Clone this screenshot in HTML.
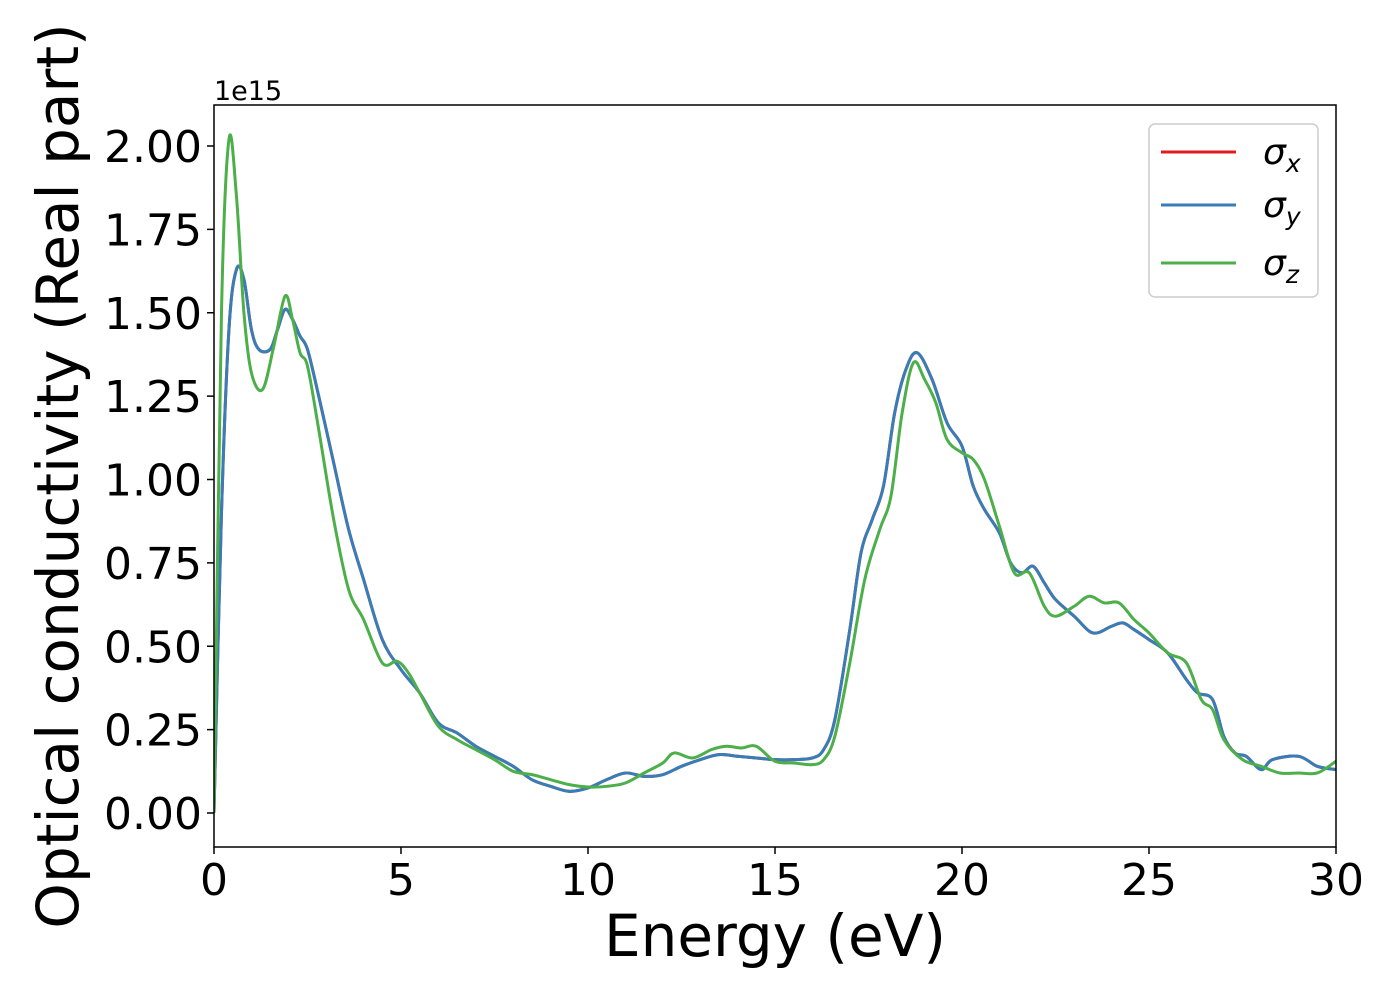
<!DOCTYPE html>
<html><head><meta charset="utf-8"><style>
body{margin:0;background:#fff;width:1400px;height:1000px;overflow:hidden}
svg text{font-family:"DejaVu Sans","Liberation Sans",sans-serif;fill:#000}
</style></head><body>
<svg id="chart" width="1400" height="1000" xmlns="http://www.w3.org/2000/svg"></svg>
<script>
const xTicks=[0,5,10,15,20,25,30];
const yTicks=[0,0.25,0.5,0.75,1.0,1.25,1.5,1.75,2.0];
const yTickLabels=["0.00","0.25","0.50","0.75","1.00","1.25","1.50","1.75","2.00"];
const energyXY=[0,0.2,0.4,0.6,0.8,1.0,1.2,1.5,1.7,1.9,2.1,2.3,2.5,2.8,3.2,3.6,4.0,4.5,5,5.5,6,6.5,7,7.5,8,8.5,9,9.5,10,10.5,11,11.5,12,12.5,13,13.5,14,14.5,15,15.5,16,16.3,16.6,17,17.3,17.6,17.9,18.2,18.5,18.8,19.2,19.6,20,20.3,20.6,21,21.3,21.6,21.9,22.2,22.5,23,23.5,24,24.3,24.6,25,25.5,26,26.3,26.7,27,27.3,27.6,28,28.3,29,29.5,30];
const sigmaX=[0,0.9,1.45,1.63,1.6,1.45,1.39,1.39,1.45,1.51,1.48,1.43,1.39,1.25,1.05,0.85,0.70,0.52,0.43,0.36,0.27,0.24,0.20,0.17,0.14,0.10,0.08,0.065,0.075,0.10,0.12,0.11,0.115,0.14,0.16,0.175,0.17,0.165,0.16,0.16,0.165,0.19,0.28,0.55,0.78,0.88,0.98,1.2,1.33,1.38,1.30,1.17,1.10,0.98,0.91,0.84,0.75,0.72,0.74,0.69,0.64,0.59,0.54,0.56,0.57,0.55,0.52,0.48,0.40,0.36,0.34,0.23,0.18,0.17,0.13,0.16,0.17,0.14,0.13];
const sigmaY=sigmaX.slice();
const energyZ=[0,0.2,0.4,0.6,0.8,1.0,1.3,1.6,1.9,2.1,2.3,2.5,2.8,3.2,3.6,4.0,4.5,4.9,5.2,5.5,6,6.5,7,7.5,8,8.5,9,9.5,10,10.5,11,11.5,12,12.3,12.8,13.3,13.7,14.1,14.5,15,15.5,16,16.3,16.6,17,17.4,17.8,18.1,18.4,18.7,19,19.3,19.6,20,20.3,20.6,21,21.4,21.8,22.2,22.5,23,23.4,23.8,24.2,24.6,25,25.5,26,26.4,26.7,27,27.5,28,28.5,29,29.5,30];
const sigmaZ=[0,1.5,2.02,1.85,1.5,1.32,1.27,1.40,1.55,1.48,1.38,1.34,1.15,0.88,0.67,0.58,0.45,0.455,0.42,0.36,0.26,0.22,0.19,0.16,0.125,0.115,0.10,0.085,0.078,0.08,0.09,0.12,0.15,0.18,0.165,0.19,0.20,0.195,0.20,0.155,0.15,0.145,0.16,0.23,0.45,0.70,0.85,0.95,1.2,1.35,1.30,1.23,1.12,1.08,1.06,1.00,0.86,0.72,0.72,0.62,0.59,0.62,0.65,0.63,0.63,0.58,0.54,0.48,0.45,0.34,0.31,0.22,0.16,0.14,0.12,0.12,0.12,0.155];
const L=214,R=1336,T=105,B=847;
const X=v=>L+(v-0)/(30-0)*(R-L);
const Y=v=>813-v*333.5;
const NS="http://www.w3.org/2000/svg";
const svg=document.getElementById('chart');
function mk(t,a,p){const e=document.createElementNS(NS,t);for(const k in a)e.setAttribute(k,a[k]);(p||svg).appendChild(e);return e;}
const defs=mk('defs',{});const cp=mk('clipPath',{id:'clip'},defs);mk('rect',{x:L,y:T,width:R-L,height:B-T},cp);
function path(xs,ys){const p=xs.map((x,i)=>[X(x),Y(ys[i])]);let d=`M${p[0][0]},${p[0][1]}`;
for(let i=0;i<p.length-1;i++){const p0=p[i-1]||p[i],p1=p[i],p2=p[i+1],p3=p[i+2]||p2;
d+=` C${p1[0]+(p2[0]-p0[0])/6},${p1[1]+(p2[1]-p0[1])/6} ${p2[0]-(p3[0]-p1[0])/6},${p2[1]-(p3[1]-p1[1])/6} ${p2[0]},${p2[1]}`;}return d;}
const g=mk('g',{'clip-path':'url(#clip)'});
const series=[[energyXY,sigmaX,'#e41a1c','series-sigma-x'],[energyXY,sigmaY,'#377eb8','series-sigma-y'],[energyZ,sigmaZ,'#4daf4a','series-sigma-z']];
series.forEach(s=>{const e=mk('path',{d:path(s[0],s[1]),fill:'none',stroke:s[2],'stroke-width':3},g);

});
const fr=mk('rect',{x:L,y:T,width:R-L,height:B-T,fill:'none',stroke:'#000','stroke-width':1.5});


xTicks.forEach(v=>{mk('line',{x1:X(v),x2:X(v),y1:B,y2:B+7,stroke:'#000','stroke-width':1.5});
const t=mk('text',{x:X(v),y:B+48,'text-anchor':'middle','font-size':44});t.textContent=v;

});
yTicks.forEach((v,i)=>{mk('line',{x1:L-7,x2:L,y1:Y(v),y2:Y(v),stroke:'#000','stroke-width':1.5});
const t=mk('text',{x:L-12,y:Y(v)+16,'text-anchor':'end','font-size':44});t.textContent=yTickLabels[i];

});
let t=mk('text',{x:214,y:100,'font-size':27});t.textContent='1e15';


t=mk('text',{x:775,y:956,'text-anchor':'middle','font-size':58});t.textContent='Energy (eV)';


t=mk('text',{x:0,y:0,'text-anchor':'middle','font-size':58,transform:'translate(78,476) rotate(-90)'});t.textContent='Optical conductivity (Real part)';


const lg=mk('g',{});


mk('rect',{x:1149,y:124,width:169,height:173,rx:6,fill:'#fff',stroke:'#ccc','stroke-width':1.5},lg);
[['x','#e41a1c',152],['y','#377eb8',205],['z','#4daf4a',263]].forEach(e=>{
mk('line',{x1:1161,x2:1236,y1:e[2],y2:e[2],stroke:e[1],'stroke-width':3},lg);
const tx=mk('text',{x:1263,y:e[2]+12,'font-size':36,'font-style':'italic'},lg);


tx.textContent='σ';const ts=mk('tspan',{'font-size':25,dy:8},tx);ts.textContent=e[0];});
</script>
</body></html>
